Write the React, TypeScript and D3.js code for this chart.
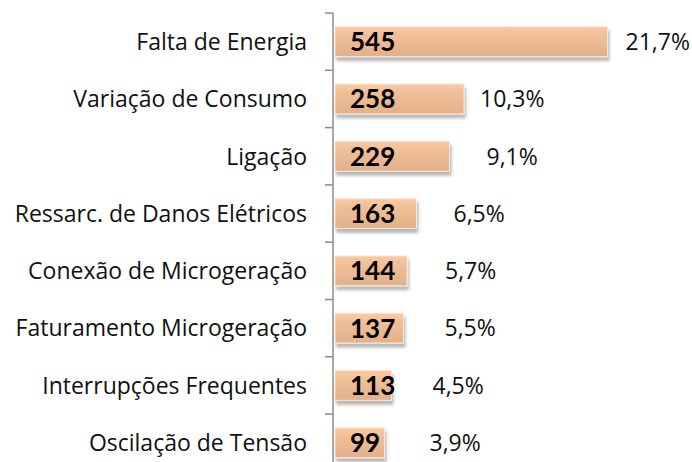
import React from "react";
import * as d3 from "d3";

const categories = [
  "Falta de Energia",
  "Variação de Consumo",
  "Ligação",
  "Ressarc. de Danos Elétricos",
  "Conexão de Microgeração",
  "Faturamento Microgeração",
  "Interrupções Frequentes",
  "Oscilação de Tensão",
];
const values = [545, 258, 229, 163, 144, 137, 113, 99];
const percents = ["21,7%", "10,3%", "9,1%", "6,5%", "5,7%", "5,5%", "4,5%", "3,9%"];
// gap (px) between bar end and percent label, as placed in the original
const pctGap = [18, 16, 37, 37, 38, 41, 41, 45];

const W = 692;
const H = 462;
const axisX = 333;
const top = 13;
const band = 57.3;

export default function App() {
  const y = d3
    .scaleBand<string>()
    .domain(categories)
    .range([top, top + band * categories.length])
    .paddingInner(0.48)
    .paddingOuter(0.24);
  const x = d3.scaleLinear().domain([0, 545]).range([axisX + 2, 607.5]);
  const ticks = d3.range(categories.length + 1).map((i) => top + i * band);
  const font = "'Open Sans', sans-serif";

  return (
    <svg
      width={W}
      height={H}
      style={{ position: "absolute", left: 0, top: 0, background: "#fff" }}
    >
      <defs>
        <linearGradient id="barGrad" x1="0" y1="0" x2="0" y2="1">
          <stop offset="0%" stopColor="#fbcaa1" />
          <stop offset="30%" stopColor="#f1bf97" />
          <stop offset="100%" stopColor="#e3b189" />
        </linearGradient>
        <filter id="shadow" x="-10%" y="-30%" width="130%" height="190%">
          <feDropShadow dx="1.5" dy="4" stdDeviation="1.5" floodColor="#000" floodOpacity="0.28" />
        </filter>
      </defs>
      {categories.map((c, i) => {
        const by = y(c)!;
        const bh = y.bandwidth();
        const cy = by + bh / 2;
        const x1 = x(values[i]);
        return (
          <g key={c}>
            <rect
              x={x(0)}
              y={by}
              width={x1 - x(0)}
              height={bh}
              fill="url(#barGrad)"
              stroke="#f7e6d9"
              strokeWidth={1}
              filter="url(#shadow)"
            />
            <text
              x={307}
              y={cy}
              dy="0.36em"
              textAnchor="end"
              fontFamily={font}
              fontSize={23}
              fill="#111"
            >
              {c}
            </text>
            <text
              x={x(0) + 15}
              y={cy}
              dy="0.36em"
              fontFamily="Lato, 'Open Sans', sans-serif"
              fontWeight="bold"
              fontSize={26}
              fill="#000"
            >
              {values[i]}
            </text>
            <text
              x={x1 + pctGap[i]}
              y={cy}
              dy="0.36em"
              fontFamily={font}
              fontSize={23}
              fill="#111"
            >
              {percents[i]}
            </text>
          </g>
        );
      })}
      <line x1={axisX} x2={axisX} y1={top} y2={H + 20} stroke="#8c8c8c" strokeWidth={1.5} />
      {ticks.map((t, i) => (
        <line key={i} x1={axisX - 8} x2={axisX} y1={t} y2={t} stroke="#8c8c8c" strokeWidth={1.5} />
      ))}
    </svg>
  );
}
